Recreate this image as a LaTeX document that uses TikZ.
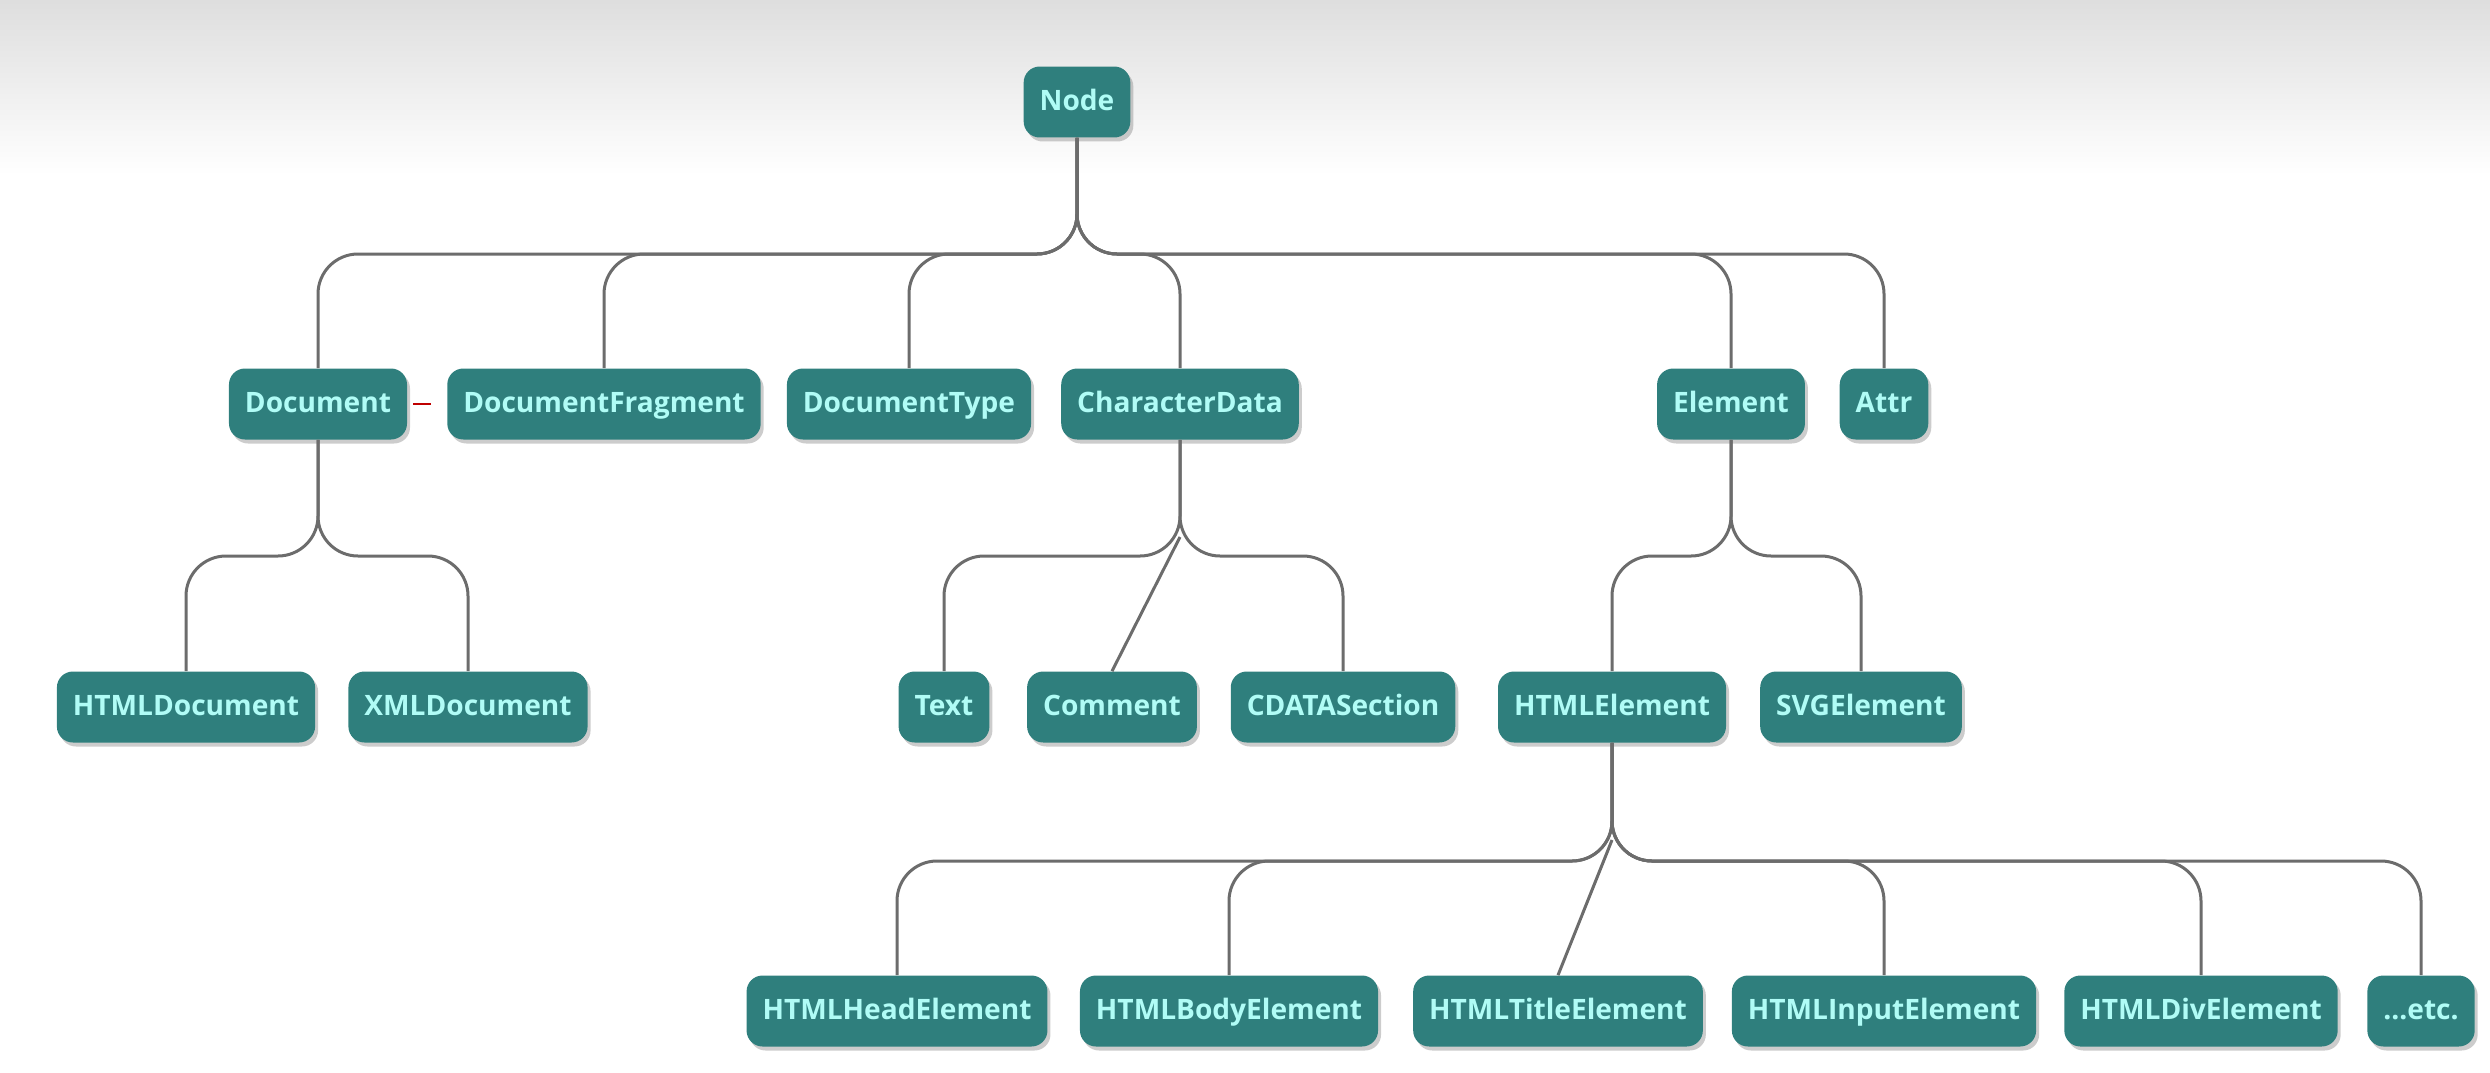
\documentclass[tikz,border=0pt]{standalone}
\usepackage{fontspec}
\setmainfont{Open Sans}
\usetikzlibrary{shadows}
\definecolor{boxteal}{RGB}{47,127,125}
\definecolor{boxtext}{RGB}{176,252,246}
\definecolor{linkgray}{RGB}{108,108,108}
\begin{document}
\begin{tikzpicture}[x=0.02cm, y=-0.02cm,
    cls/.style={fill=boxteal, text=boxtext, rounded corners=0.32cm,
        font=\fontsize{16}{19}\selectfont\bfseries, inner xsep=0.32cm,
        text height=0.42cm, text depth=0.1cm, minimum height=1.42cm,
        drop shadow={shadow xshift=0.06cm, shadow yshift=-0.08cm, opacity=0.4}},
    link/.style={linkgray, line width=0.06cm, rounded corners=0.8cm},
    redmark/.style={red!75!black, line width=0.05cm}]

    % background
    \fill[top color=gray!26, bottom color=white] (0,0) rectangle (2490,175);
    \useasboundingbox (0,0) rectangle (2490,1072);

    % levels of the buses
    \coordinate (bus1) at (0,254);
    \coordinate (bus2) at (0,556);
    \coordinate (bus3) at (0,861);

    % root
    \node[cls] (node) at (1077,102) {Node};

    % first level
    \node[cls] (document) at (318,404) {Document};
    \node[cls] (docfrag) at (604,404) {DocumentFragment};
    \node[cls] (doctype) at (909,404) {DocumentType};
    \node[cls] (chardata) at (1180,404) {CharacterData};
    \node[cls] (element) at (1731,404) {Element};
    \node[cls] (attr) at (1884,404) {Attr};

    % second level
    \node[cls] (htmldoc) at (186,707) {HTMLDocument};
    \node[cls] (xmldoc) at (468,707) {XMLDocument};
    \node[cls] (text) at (944,707) {Text};
    \node[cls] (comment) at (1112,707) {Comment};
    \node[cls] (cdata) at (1343,707) {CDATASection};
    \node[cls] (htmlel) at (1612,707) {HTMLElement};
    \node[cls] (svgel) at (1861,707) {SVGElement};

    % third level
    \node[cls] (headel) at (897,1011) {HTMLHeadElement};
    \node[cls] (bodyel) at (1229,1011) {HTMLBodyElement};
    \node[cls] (titleel) at (1558,1011) {HTMLTitleElement};
    \node[cls] (inputel) at (1884,1011) {HTMLInputElement};
    \node[cls] (divel) at (2201,1011) {HTMLDivElement};
    \node[cls] (etc) at (2421,1011) {...etc.};

    % links from Node
    \foreach \c in {document,docfrag,doctype,chardata,element,attr}
        \draw[link] (node.south) -- (node.south |- bus1) -| (\c.north);

    % links from Document
    \foreach \c in {htmldoc,xmldoc}
        \draw[link] (document.south) -- (document.south |- bus2) -| (\c.north);

    % links from CharacterData
    \foreach \c in {text,cdata}
        \draw[link] (chardata.south) -- (chardata.south |- bus2) -| (\c.north);
    \coordinate (cdfork) at (1180,537);
    \draw[link] (cdfork) -- (comment.north);

    % links from Element
    \foreach \c in {htmlel,svgel}
        \draw[link] (element.south) -- (element.south |- bus2) -| (\c.north);

    % links from HTMLElement
    \foreach \c in {headel,bodyel,inputel,divel,etc}
        \draw[link] (htmlel.south) -- (htmlel.south |- bus3) -| (\c.north);
    \coordinate (elfork) at (1612,840);
    \draw[link] (elfork) -- (titleel.north);

    % small red mark
    \draw[redmark] (document.east) ++(6,0) -- ++(18,0);
\end{tikzpicture}
\end{document}
